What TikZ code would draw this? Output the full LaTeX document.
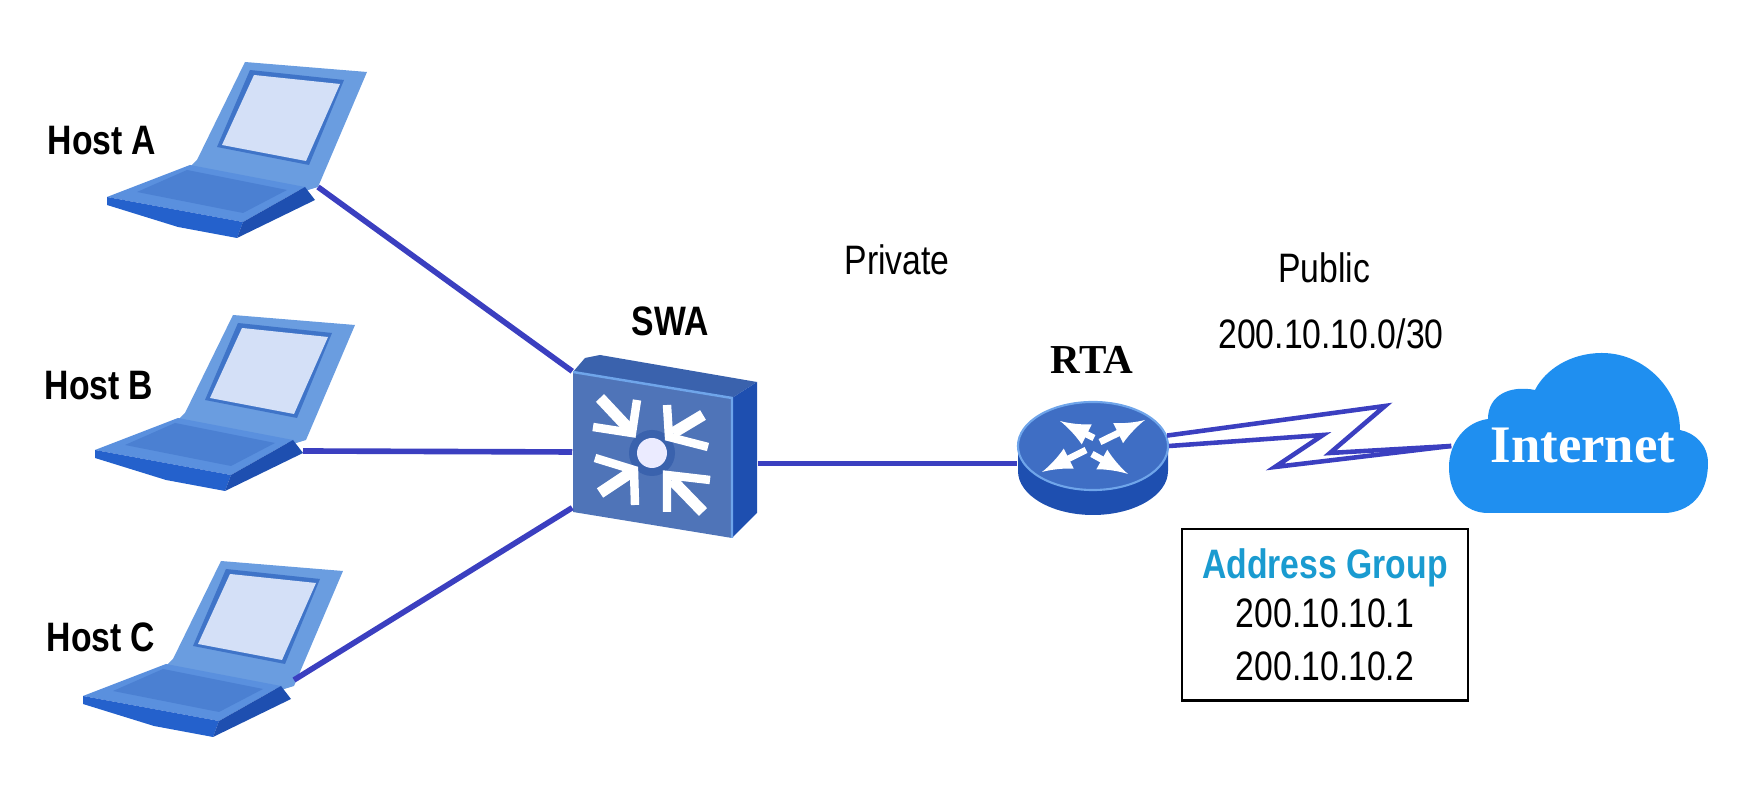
\documentclass[tikz,border=0pt]{standalone}
\usepackage{fontspec}
\setmainfont[FakeStretch=0.82]{Liberation Sans}
\newfontfamily\titlefont{Liberation Serif}
\usetikzlibrary{arrows,shapes.geometric}

\definecolor{linkblue}{HTML}{3B3FC0}
\definecolor{lidblue}{HTML}{6A9DE0}
\definecolor{lidedge}{HTML}{3F74C8}
\definecolor{screenblue}{HTML}{D4E0F7}
\definecolor{deckblue}{HTML}{5A90DE}
\definecolor{keysblue}{HTML}{4B80D2}
\definecolor{frontblue}{HTML}{2461CC}
\definecolor{faceblue}{HTML}{4F74B8}
\definecolor{topblue}{HTML}{3A62AD}
\definecolor{sideblue}{HTML}{1E4FB0}
\definecolor{rimblue}{HTML}{6FA5EA}
\definecolor{routerblue}{HTML}{3F6EC4}
\definecolor{cloudblue}{HTML}{1F8FF0}
\definecolor{groupblue}{HTML}{1A9BD0}

\tikzset{
    laptop/.pic = {
        \fill[lidblue] (-73,-125) -- (49,-115) -- (0,0) -- (-13,4) -- (-128,-20) -- (-121,-27) -- cycle;
        \fill[lidedge] (-68,-117) -- (26,-107) -- (-9,-22) -- (-101,-40) -- cycle;
        \fill[screenblue] (-64,-112) -- (22,-103) -- (-12,-26) -- (-96,-42) -- cycle;
        \fill[deckblue] (-128,-22) -- (-211,10) -- (-75,35) -- (-13,0) -- cycle;
        \fill[keysblue] (-131,-17) -- (-181,5) -- (-75,26) -- (-31,3) -- cycle;
        \fill[frontblue] (-211,10) -- (-75,35) -- (-81,51) -- (-140,40) -- (-211,18) -- cycle;
        \fill[sideblue] (-75,35) -- (-13,0) -- (-3,13) -- (-81,51) -- cycle;
    }
}

\begin{document}
\begin{tikzpicture}[
            x = 0.01cm, y = -0.01cm, % one unit is one pixel of the picture
            link/.style = {draw=linkblue, line width=1.6pt},
            zigzag/.style = {draw=linkblue, line width=1.3pt, line join=miter},
            label/.style = {font=\fontsize{11.7}{14}\selectfont, inner sep=0pt},
            boldlabel/.style = {font=\fontsize{11.7}{14}\selectfont\bfseries, inner sep=0pt},
            chevron/.style = {draw=white, line width=2.4pt, line join=miter},
            shaft/.style = {draw=white, line width=3.2pt},
            routerarrow/.style = {draw=white, line width=1.9pt, -latex}
        ]
	\useasboundingbox (0,0) rectangle (1762,786);

	% hosts
	\pic at (318,187) {laptop};
	\pic at (306,440) {laptop};
	\pic at (294,686) {laptop};
	\coordinate (hostA) at (318,187);
	\coordinate (hostB) at (303,451);
	\coordinate (hostC) at (294,680);
	\node[boldlabel] (labelA) at (102,141) {Host A};
	\node[boldlabel] (labelB) at (99,386) {Host B};
	\node[boldlabel] (labelC) at (101,637) {Host C};

	% switch
	\node[inner sep=0pt, minimum width=1.84cm, minimum height=1.6cm] (swa) at (665,452) {};
	\fill[topblue] (573,372) -- (585,358) -- (600,355) -- (757,382) -- (732,398) -- cycle;
	\fill[sideblue] (732,398) -- (757,382) -- (757,513) -- (732,538) -- cycle;
	\fill[faceblue] (573,372) -- (732,398) -- (732,538) -- (573,512) -- cycle;
	\draw[rimblue, line width=0.7pt] (573,372) -- (732,398) -- (732,538);
	\fill[topblue] (652,453) circle (23);
	\fill[white!92!blue] (652,453) circle (15);
	\draw[chevron] (593,427) -- (632,433) -- (637,400);
	\draw[shaft] (600,398) -- (630,430);
	\draw[chevron] (667,405) -- (669,437) -- (708,447);
	\draw[shaft] (703,415) -- (673,433);
	\draw[chevron] (595,458) -- (634,470) -- (635,505);
	\draw[shaft] (600,493) -- (630,473);
	\draw[chevron] (710,480) -- (667,475) -- (667,512);
	\draw[shaft] (703,512) -- (672,480);
	\node[boldlabel] (labelSWA) at (670,321) {SWA};

	% router
	\fill[sideblue] (1018,446) -- (1018,471) arc[start angle=180, end angle=0, x radius=75, y radius=44] -- (1168,446) -- cycle;
	\node[ellipse, fill=routerblue, draw=rimblue, line width=0.6pt, inner sep=0pt, minimum width=1.5cm, minimum height=0.88cm] (rta) at (1093,446) {};
	\draw[routerarrow] (1100,442) -- (1145,420);
	\draw[routerarrow] (1094,438) -- (1060,421);
	\draw[routerarrow] (1086,450) -- (1042,472);
	\draw[routerarrow] (1092,454) -- (1128,474);
	\node[font=\titlefont\fontsize{11.7}{14}\selectfont\bfseries, inner sep=0pt] (labelRTA) at (1092,360) {RTA};

	% cloud, the name of the node is the end of the serial link
	\fill[cloudblue] (1488,513) -- (1667,513) .. controls (1695,510) and (1708,490) .. (1708,463)
		.. controls (1708,445) and (1695,433) .. (1680,430)
		.. controls (1680,390) and (1645,353) .. (1602,353)
		.. controls (1570,353) and (1545,370) .. (1535,390)
		.. controls (1510,385) and (1488,395) .. (1488,419)
		.. controls (1465,422) and (1449,443) .. (1449,467)
		.. controls (1449,495) and (1465,513) .. (1488,513) -- cycle;
	\node[font=\titlefont\fontsize{15}{18}\selectfont\bfseries, text=white, inner sep=0pt, minimum width=2.62cm] (cloud) at (1583,446) {Internet};

	% links
	\draw[link] (hostA) -- (swa.north west);
	\draw[link] (hostB) -- (swa.west);
	\draw[link] (hostC) -- (swa.211);
	\draw[link] (swa.-7) -- (swa.-7 -| rta.west);

	\coordinate (zigA) at (1385,406);
	\coordinate (zigB) at (1330,453);
	\coordinate (zigC) at (1323,435);
	\coordinate (zigD) at (1275,467);
	\draw[zigzag] (rta.8) -- (zigA) -- (zigB) -- (cloud.west);
	\draw[zigzag] (rta.east) -- (zigC) -- (zigD) -- (cloud.west);

	% texts
	\node[label] (private) at (897,260) {Private};
	\node[label] (public) at (1324,268) {Public};
	\node[label] (subnet) at (1331,334) {200.10.10.0/30};
	\node[label, draw, line width=0.6pt, align=center, minimum width=2.86cm, minimum height=1.71cm] (group) at (1325,615)
		{{\bfseries\color{groupblue}Address Group}\\ 200.10.10.1\\[1pt] 200.10.10.2};

\end{tikzpicture}
\end{document}
